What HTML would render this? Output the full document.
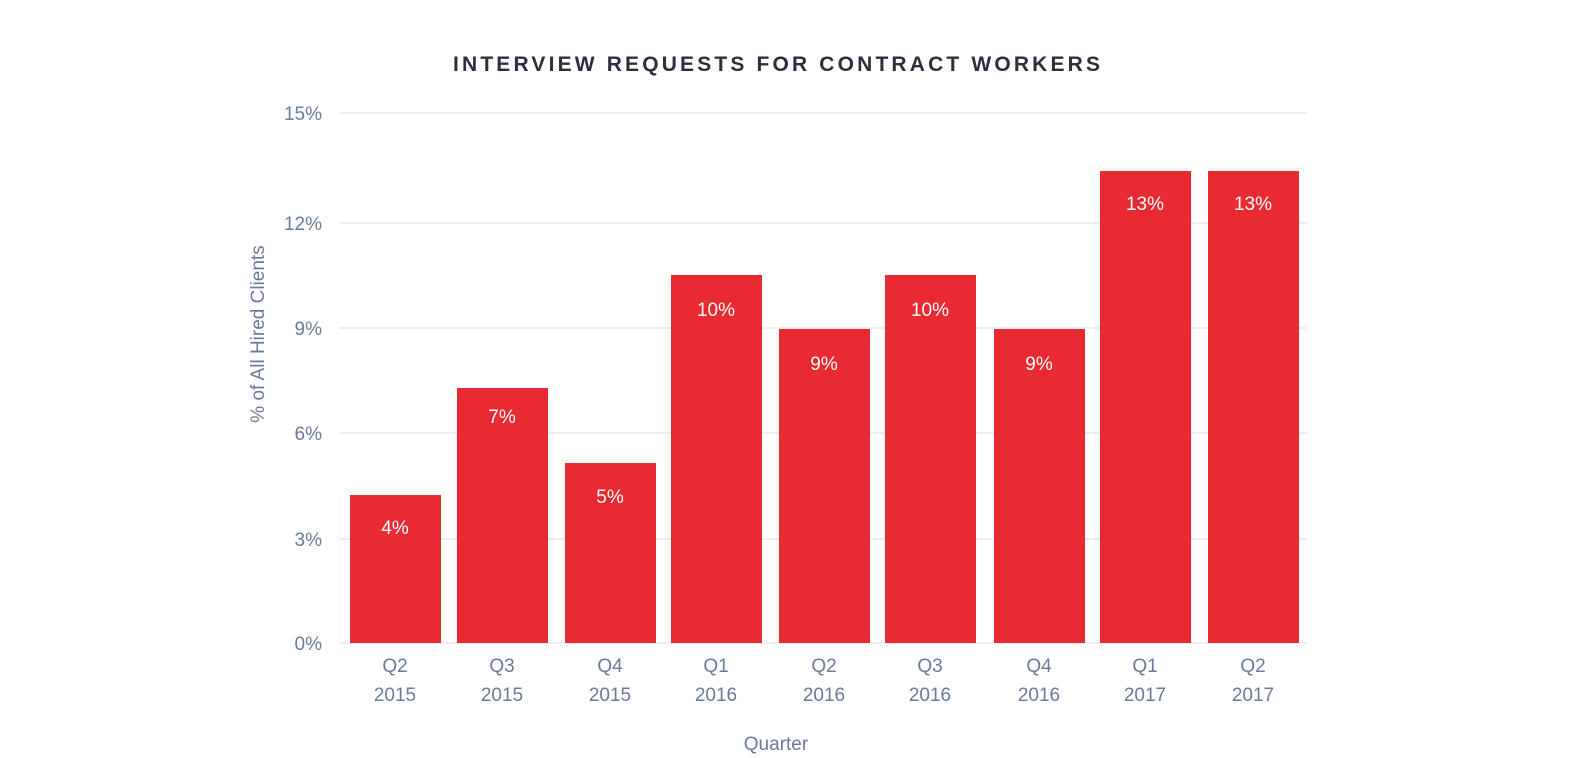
<!DOCTYPE html>
<html><head><meta charset="utf-8"><style>
html,body{margin:0;padding:0;background:#fff}
svg{display:block;font-family:"Liberation Sans",sans-serif}
</style></head><body>
<svg width="1580" height="758" viewBox="0 0 1580 758" xmlns="http://www.w3.org/2000/svg">
<text x="453" y="71" textLength="647" lengthAdjust="spacing" font-size="21" font-weight="bold" fill="#2e2f3e">INTERVIEW REQUESTS FOR CONTRACT WORKERS</text>
<g stroke="#e8e8ec" stroke-width="1.5">
<line x1="340" x2="1307" y1="113" y2="113"/>
<line x1="340" x2="1307" y1="223" y2="223"/>
<line x1="340" x2="1307" y1="328" y2="328"/>
<line x1="340" x2="1307" y1="433" y2="433"/>
<line x1="340" x2="1307" y1="539" y2="539"/>
<line x1="340" x2="1307" y1="643" y2="643"/>
</g>
<g font-size="19" fill="#6b7a99" text-anchor="end">
<text x="322" y="120">15%</text>
<text x="322" y="230">12%</text>
<text x="322" y="335">9%</text>
<text x="322" y="440">6%</text>
<text x="322" y="546">3%</text>
<text x="322" y="650">0%</text>
</g>
<text transform="translate(264,334) rotate(-90)" text-anchor="middle" font-size="19" fill="#6b7a99">% of All Hired Clients</text>
<g fill="#e92a33">
<rect x="350" y="495" width="91" height="148"/>
<rect x="457" y="388" width="91" height="255"/>
<rect x="565" y="463" width="91" height="180"/>
<rect x="671" y="275" width="91" height="368"/>
<rect x="779" y="329" width="91" height="314"/>
<rect x="885" y="275" width="91" height="368"/>
<rect x="994" y="329" width="91" height="314"/>
<rect x="1100" y="171" width="91" height="472"/>
<rect x="1208" y="171" width="91" height="472"/>
</g>
<g font-size="19" fill="#fff" text-anchor="middle">
<text x="395" y="534">4%</text>
<text x="502" y="423">7%</text>
<text x="610" y="503">5%</text>
<text x="716" y="316">10%</text>
<text x="824" y="370">9%</text>
<text x="930" y="316">10%</text>
<text x="1039" y="370">9%</text>
<text x="1145" y="210">13%</text>
<text x="1253" y="210">13%</text>
</g>
<g font-size="19" fill="#6b7a99" text-anchor="middle">
<text x="395" y="672">Q2</text><text x="395" y="701">2015</text>
<text x="502" y="672">Q3</text><text x="502" y="701">2015</text>
<text x="610" y="672">Q4</text><text x="610" y="701">2015</text>
<text x="716" y="672">Q1</text><text x="716" y="701">2016</text>
<text x="824" y="672">Q2</text><text x="824" y="701">2016</text>
<text x="930" y="672">Q3</text><text x="930" y="701">2016</text>
<text x="1039" y="672">Q4</text><text x="1039" y="701">2016</text>
<text x="1145" y="672">Q1</text><text x="1145" y="701">2017</text>
<text x="1253" y="672">Q2</text><text x="1253" y="701">2017</text>
<text x="776" y="750">Quarter</text>
</g>
</svg>
</body></html>
